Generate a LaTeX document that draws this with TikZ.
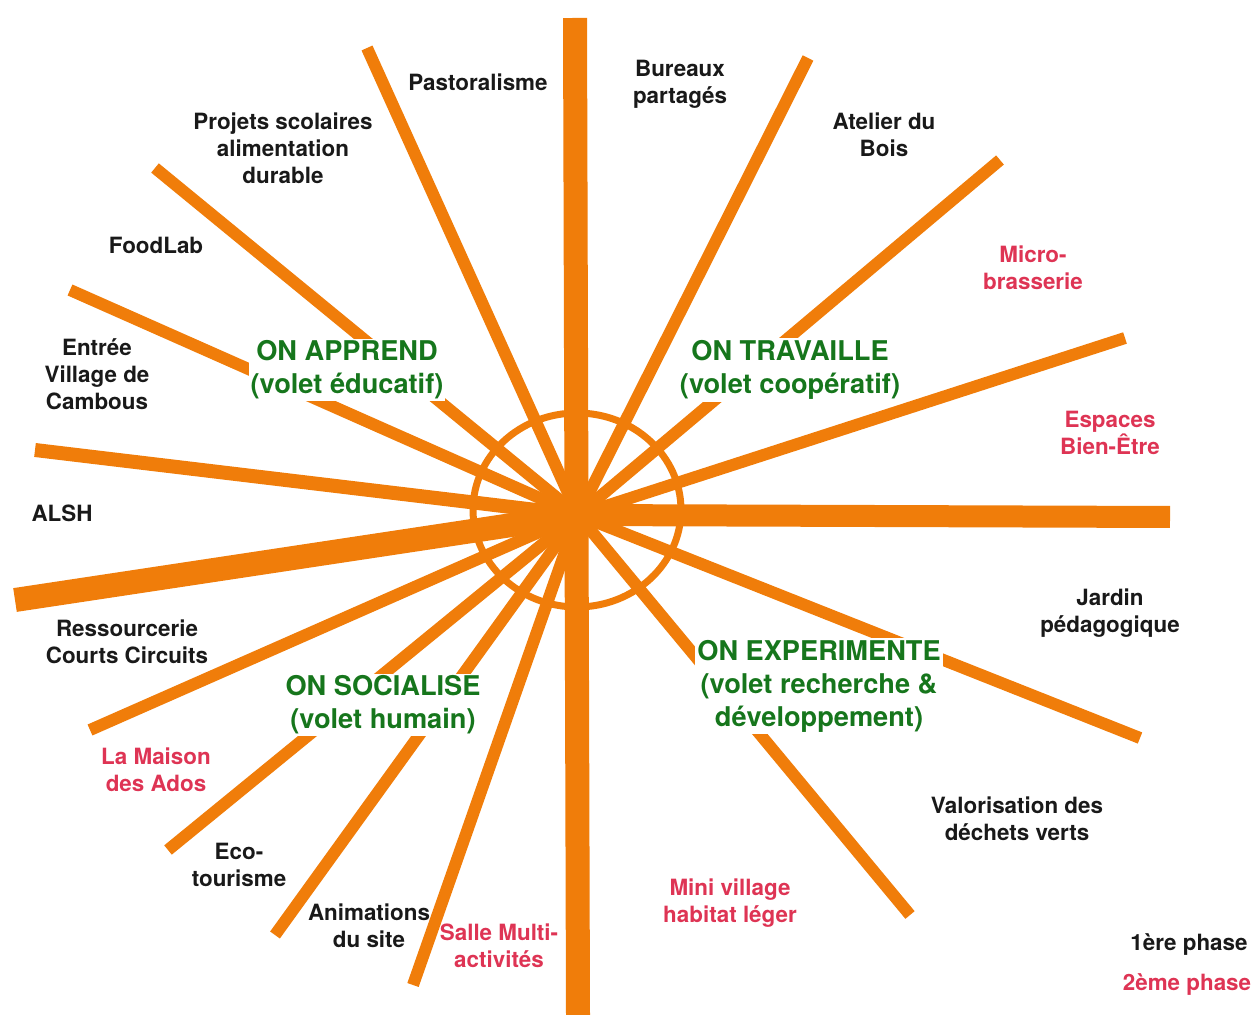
\documentclass[tikz,border=0pt]{standalone}
\usepackage{fontspec}
\setmainfont{TeX Gyre Heros}
\definecolor{crayon}{RGB}{240,125,10}
\definecolor{voletgreen}{RGB}{22,118,28}
\definecolor{phasetwo}{RGB}{222,52,84}
\tikzset{
ray/.style={draw=crayon, line width=6pt},
midray/.style={draw=crayon, line width=7pt},
bigray/.style={draw=crayon, line width=12pt},
volet/.style={fill=white, inner sep=1pt, text=voletgreen, align=center,
  font=\bfseries\fontsize{13.6}{16.5}\selectfont},
first/.style={align=center, inner sep=1pt, text=black!90,
  font=\bfseries\fontsize{11.2}{13.5}\selectfont},
second/.style={first, text=phasetwo},
}
\begin{document}
\begin{tikzpicture}[x=0.5pt,y=-0.5pt]
\useasboundingbox (0,0) rectangle (1253,1015);
\coordinate (c) at (578,515);
\coordinate (top) at (575,18);
\coordinate (bot) at (578,1015);
\coordinate (east) at (1170,517);
\coordinate (west) at (15,600);
\coordinate (alsh) at (35,450);
\coordinate (pas) at (367,48);
\coordinate (proj) at (155,168);
\coordinate (food) at (70,290);
\coordinate (bur) at (808,58);
\coordinate (atel) at (1000,160);
\coordinate (micro) at (1125,338);
\coordinate (jard) at (1140,738);
\coordinate (valo) at (910,915);
\coordinate (ados) at (90,730);
\coordinate (eco) at (168,850);
\coordinate (anim) at (275,935);
\coordinate (salle) at (413,985);
\foreach \e in {pas,proj,food,bur,atel,micro,jard,valo,ados,eco,anim,salle}
  \draw[ray] (c) -- (\e);
\draw[midray] (c) -- (alsh);
\draw[bigray] (c) -- (west);
\draw[bigray, line width=11pt] (c) -- (east);
\draw[bigray] (top) -- (bot);
\draw[draw=crayon, line width=3.5pt] (577,510) ellipse [x radius=52pt, y radius=48.5pt];

\node[volet] (apprend) at (347,370) {ON APPREND\\(volet éducatif)};
\node[volet] (travaille) at (790,370) {ON TRAVAILLE\\(volet coopératif)};
\node[volet] (experimente) at (819,686) {ON EXPERIMENTE\\(volet recherche \&\\développement)};
\node[volet] (socialise) at (383,705) {ON SOCIALISE\\(volet humain)};

\node[first] (pastoralisme) at (478,82) {Pastoralisme};
\node[first] (bureaux) at (680,84) {Bureaux\\partagés};
\node[first] (projets) at (283,148) {Projets scolaires\\alimentation\\durable};
\node[first] (atelier) at (884,135) {Atelier du\\Bois};
\node[first] (foodlab) at (156,245) {FoodLab};
\node[second] (brasserie) at (1033,268) {Micro-\\brasserie};
\node[first] (entree) at (97,374) {Entrée\\Village de\\Cambous};
\node[second] (espaces) at (1110,433) {Espaces\\Bien-Être};
\node[first] (alshlabel) at (62,513) {ALSH};
\node[first] (jardin) at (1110,613) {Jardin\\pédagogique};
\node[first] (ressourcerie) at (127,642) {Ressourcerie\\Courts Circuits};
\node[second] (maison) at (156,770) {La Maison\\des Ados};
\node[first] (valorisation) at (1017,819) {Valorisation des\\déchets verts};
\node[first] (ecotourisme) at (239,865) {Eco-\\tourisme};
\node[second] (minivillage) at (730,903) {Mini village\\habitat léger};
\node[first] (animations) at (369,926) {Animations\\du site};
\node[second] (sallemulti) at (499,946) {Salle Multi-\\activités};
\node[first] (phaseone) at (1189,945) {1ère phase};
\node[second] (phasetwolabel) at (1187,985) {2ème phase};
\end{tikzpicture}
\end{document}
